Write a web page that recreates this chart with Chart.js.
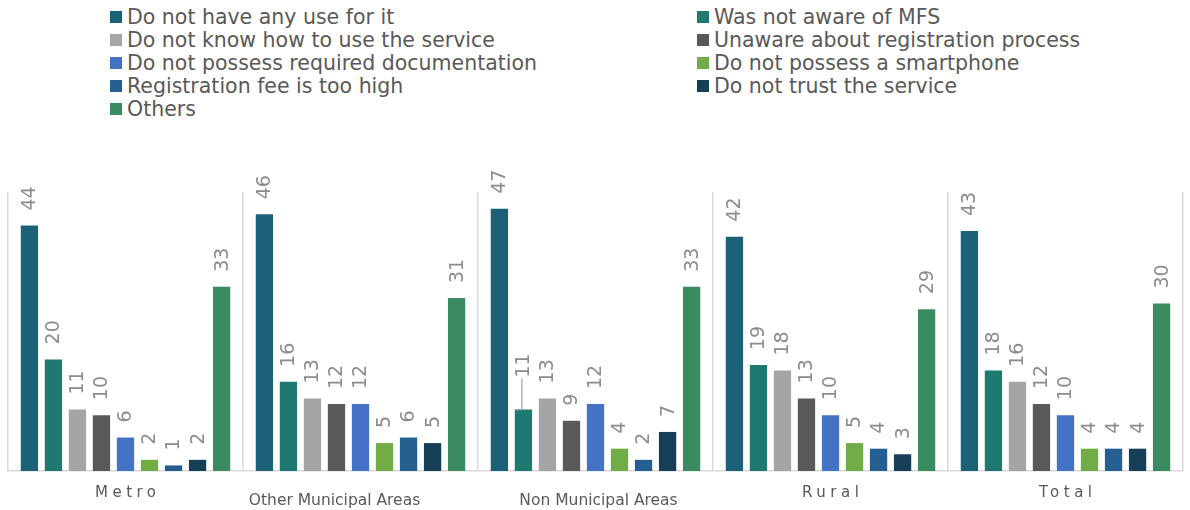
<!DOCTYPE html>
<html lang="en">
<head>
    <meta charset="UTF-8">
    <title>Reasons for not using MFS</title>
    <script src="https://cdn.jsdelivr.net/npm/chart.js"></script>
    <style>
        * { margin: 0; padding: 0; box-sizing: border-box; }
        body { width: 1190px; height: 510px; background: #fff; font-family: 'DejaVu Sans', sans-serif; overflow: hidden; }
        .wrap { position: relative; width: 1190px; height: 510px; }
        .legend {
            position: absolute; top: 5px; left: 110px;
            display: grid; grid-template-columns: 587px 480px;
        }
        .legend-item { display: flex; align-items: center; height: 23px; font-size: 20.5px; color: #595959; white-space: nowrap; }
        .legend-item span.box { width: 12px; height: 12px; margin-right: 5px; flex: none; }
        canvas { position: absolute; top: 0; left: 0; }
    </style>
</head>
<body>
<div class="wrap">
    <div class="legend" id="legend"></div>
    <canvas id="chart" width="1190" height="510"></canvas>
</div>
<script>
    // categories and series
    const areas = ['Metro', 'Other Municipal Areas', 'Non Municipal Areas', 'Rural', 'Total'];
    const reasons = [
        'Do not have any use for it',
        'Was not aware of MFS',
        'Do not know how to use the service',
        'Unaware about registration process',
        'Do not possess required documentation',
        'Do not possess a smartphone',
        'Registration fee is too high',
        'Do not trust the service',
        'Others'
    ];
    const noUse        = [44, 46, 47, 42, 43];
    const notAware     = [20, 16, 11, 19, 18];
    const dontKnow     = [11, 13, 13, 18, 16];
    const unawareReg   = [10, 12, 9, 13, 12];
    const noDocs       = [6, 12, 12, 10, 10];
    const noSmartphone = [2, 5, 4, 5, 4];
    const feeHigh      = [1, 6, 2, 4, 4];
    const noTrust      = [2, 5, 7, 3, 4];
    const others       = [33, 31, 33, 29, 30];

    const seriesValues = [noUse, notAware, dontKnow, unawareReg, noDocs, noSmartphone, feeHigh, noTrust, others];
    const colors = ['#1B6278', '#1E7A70', '#A5A5A5', '#595959', '#4472C4', '#70AD47', '#255E91', '#153F57', '#3A8C60'];

    // HTML legend, two columns
    const legendEl = document.getElementById('legend');
    reasons.forEach((r, i) => {
        const item = document.createElement('div');
        item.className = 'legend-item';
        item.innerHTML = '<span class="box" style="background:' + colors[i] + '"></span>' + r;
        legendEl.appendChild(item);
    });

    // rotated value labels above bars
    const valueLabels = {
        id: 'valueLabels',
        afterDatasetsDraw(chart) {
            const ctx = chart.ctx;
            ctx.save();
            ctx.font = '19px "DejaVu Sans", sans-serif';
            ctx.fillStyle = '#8C8C8C';
            ctx.textAlign = 'left';
            ctx.textBaseline = 'middle';
            chart.data.datasets.forEach((ds, di) => {
                chart.getDatasetMeta(di).data.forEach((bar, i) => {
                    let lift = 15;
                    // label pulled up with a leader line (Non Municipal Areas)
                    if (di === 1 && i === 2) {
                        lift = 32;
                        ctx.strokeStyle = '#8C8C8C';
                        ctx.lineWidth = 1;
                        ctx.beginPath();
                        ctx.moveTo(bar.x - 8, bar.y + 0.5);
                        ctx.lineTo(bar.x - 1.5, bar.y + 0.5);
                        ctx.moveTo(bar.x - 1.5, bar.y);
                        ctx.lineTo(bar.x - 1.5, bar.y - lift + 1);
                        ctx.stroke();
                    }
                    ctx.save();
                    ctx.translate(bar.x, bar.y - lift);
                    ctx.rotate(-Math.PI / 2);
                    ctx.fillText(String(ds.data[i]), 0, 1);
                    ctx.restore();
                });
            });
            ctx.restore();
        }
    };

    // category labels under the axis
    const labelStyle = [
        { dy: 22, dx: 0, spacing: 4.5, size: 15 },
        { dy: 30, dx: -26, spacing: 0, size: 15.5 },
        { dy: 30, dx: 3, spacing: 0, size: 15.5 },
        { dy: 22, dx: 0, spacing: 4.5, size: 15 },
        { dy: 22, dx: 0, spacing: 4.5, size: 15 }
    ];
    const areaLabels = {
        id: 'areaLabels',
        afterDraw(chart) {
            const ctx = chart.ctx;
            const xs = chart.scales.x;
            ctx.save();
            ctx.fillStyle = '#595959';
            ctx.textAlign = 'center';
            ctx.textBaseline = 'middle';
            areas.forEach((a, i) => {
                const s = labelStyle[i];
                ctx.font = s.size + 'px "DejaVu Sans", sans-serif';
                ctx.letterSpacing = s.spacing + 'px';
                ctx.fillText(a, xs.getPixelForValue(i) + s.dx + s.spacing / 2, chart.chartArea.bottom + s.dy);
            });
            ctx.restore();
        }
    };

    new Chart(document.getElementById('chart'), {
        type: 'bar',
        data: {
            labels: areas,
            datasets: reasons.map((r, i) => ({
                label: r,
                data: seriesValues[i],
                backgroundColor: colors[i],
                categoryPercentage: 0.92,
                barPercentage: 0.72
            }))
        },
        options: {
            responsive: false,
            animation: false,
            layout: { padding: { top: 192, left: 8, right: 7, bottom: 39 } },
            plugins: { legend: { display: false }, tooltip: { enabled: false } },
            scales: {
                x: {
                    grid: { offset: true, color: '#D9D9D9', lineWidth: 1.5, drawTicks: false },
                    border: { color: '#D9D9D9', width: 1.5 },
                    ticks: { display: false }
                },
                y: {
                    display: false,
                    min: 0,
                    max: 50
                }
            }
        },
        plugins: [valueLabels, areaLabels]
    });
</script>
</body>
</html>
